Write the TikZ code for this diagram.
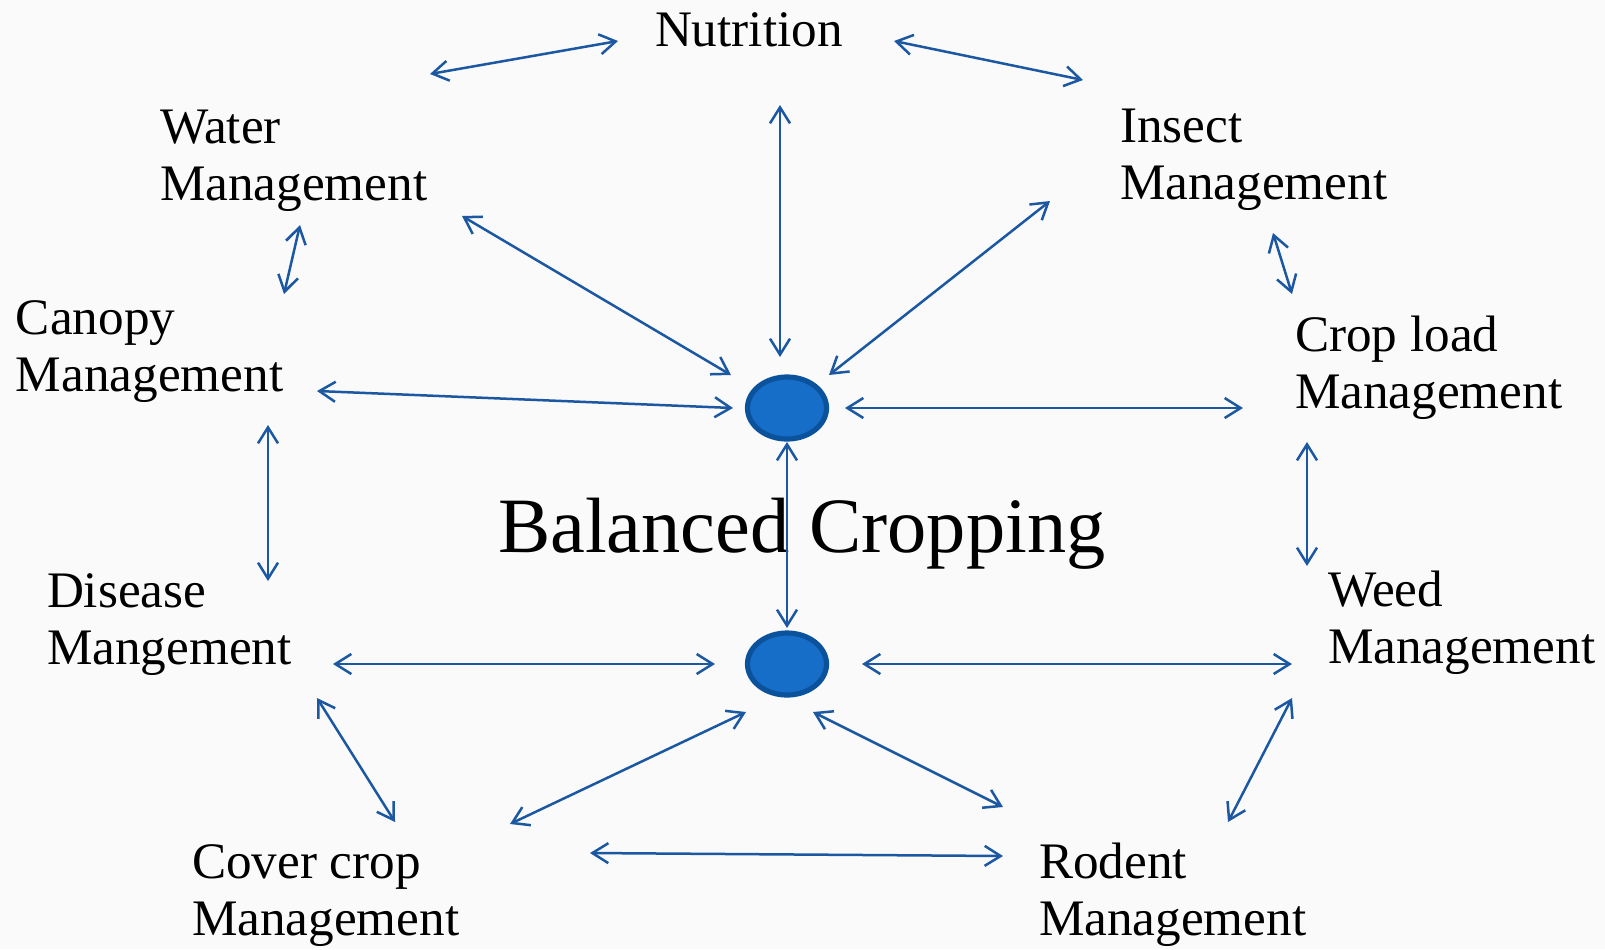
\documentclass[tikz,border=0pt]{standalone}
\usepackage{fontspec}
\setmainfont{Liberation Serif}
\usetikzlibrary{arrows.meta,shapes.geometric}
\definecolor{arrc}{RGB}{28,88,162}
\definecolor{efill}{RGB}{22,110,200}
\definecolor{edraw}{RGB}{10,82,155}
\definecolor{bgc}{RGB}{250,250,250}
\newcommand{\twol}[2]{\begin{tabular}[t]{@{}l@{}}#1\\#2\end{tabular}}
\begin{document}
\begin{tikzpicture}[x=0.5pt,y=-0.5pt,
  lbl/.style={anchor=base west, inner sep=0pt, outer sep=0pt, font=\fontsize{25.6}{28.75}\selectfont},
  bigl/.style={anchor=base west, inner sep=0pt, outer sep=0pt, font=\fontsize{39.2}{42}\selectfont},
  dot/.style={ellipse, draw=edraw, fill=efill, line width=2.6pt, minimum width=39.5pt, minimum height=31pt, inner sep=0pt},
  arr/.style={draw=arrc, line width=1.25pt, {Straight Barb[length=8pt,width=10pt]}-{Straight Barb[length=8pt,width=10pt]}}]
\useasboundingbox (0,0) rectangle (1605,949);
\fill[bgc] (0,0) rectangle (1605,949);
% labels
\node[lbl] (nut) at (655,46) {Nutrition};
\node[lbl] (wat) at (160,143) {\twol{Water}{Management}};
\node[lbl] (ins) at (1120,142) {\twol{Insect}{Management}};
\node[lbl] (can) at (16,334) {\twol{Canopy}{Management}};
\node[lbl] (crl) at (1295,351) {\twol{Crop load}{Management}};
\node[lbl] (dis) at (47,607) {\twol{Disease}{Mangement}};
\node[lbl] (wee) at (1328,606) {\twol{Weed}{Management}};
\node[lbl] (cov) at (192,878) {\twol{Cover crop}{Management}};
\node[lbl] (rod) at (1039,878) {\twol{Rodent}{Management}};
\node[bigl] (bal) at (498,552) {Balanced Cropping};
% ellipses
\node[dot] (e1) at (787,408) {};
\node[dot] (e2) at (787,664) {};
% connector end points
\coordinate (a1) at (430,74);   \coordinate (b1) at (618,41);
\coordinate (a2) at (894,41);   \coordinate (b2) at (1083,80);
\coordinate (a3) at (780,105);  \coordinate (b3) at (780,357);
\coordinate (a4) at (462,216);  \coordinate (b4) at (731,375);
\coordinate (a5) at (1050,201); \coordinate (b5) at (829,375);
\coordinate (a6) at (300,225);  \coordinate (b6) at (284,294);
\coordinate (a7) at (1273,233); \coordinate (b7) at (1292,294);
\coordinate (a8) at (317,391);  \coordinate (b8) at (733,408);
\coordinate (a9) at (845,408);  \coordinate (b9) at (1243,408);
\coordinate (a10) at (268,425); \coordinate (b10) at (268,581);
\coordinate (a11) at (1307,442);\coordinate (b11) at (1307,566);
\coordinate (a12) at (787,442); \coordinate (b12) at (787,628);
\coordinate (a13) at (333,664); \coordinate (b13) at (715,664);
\coordinate (a14) at (862,664); \coordinate (b14) at (1292,664);
\coordinate (a15) at (317,698); \coordinate (b15) at (395,822);
\coordinate (a16) at (1292,698);\coordinate (b16) at (1228,822);
\coordinate (a17) at (746,712); \coordinate (b17) at (510,824);
\coordinate (a18) at (813,712); \coordinate (b18) at (1003,807);
\coordinate (a19) at (590,853); \coordinate (b19) at (1003,856);
\foreach \i in {1,...,19} { \draw[arr] (a\i) -- (b\i); }
\end{tikzpicture}
\end{document}
